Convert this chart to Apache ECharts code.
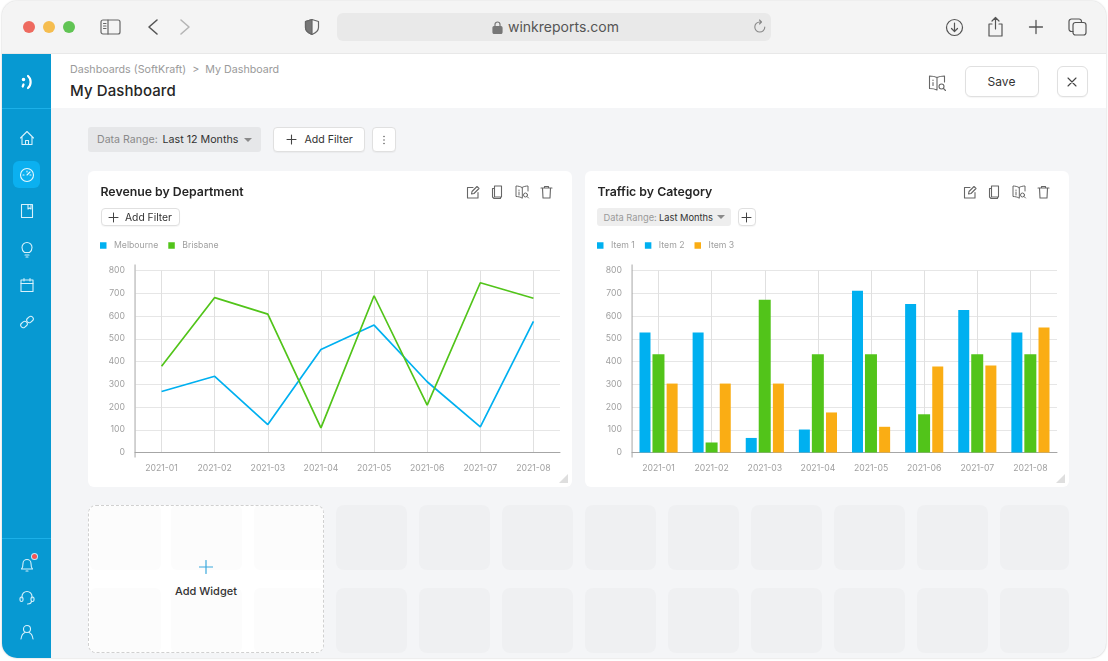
<!DOCTYPE html>
<html>
<head>
<meta charset="utf-8">
<title>My Dashboard</title>
<script src="https://cdn.jsdelivr.net/npm/echarts@6/dist/echarts.min.js"></script>
<style>
  html, body { margin: 0; padding: 0; width: 1108px; height: 661px; background: #fff; overflow: hidden; font-family: Inter, "Noto Sans", sans-serif; }
  .abs, .abs * { box-sizing: border-box; }
  .abs { position: absolute; }
  #window { left: 2px; top: 1px; width: 1104px; height: 657px; border-radius: 15px; overflow: hidden; background: #f4f5f7; box-shadow: 0 0 2px rgba(0,0,0,.25); }
  #page { left: -2px; top: -1px; width: 1108px; height: 661px; }
  .txt { white-space: nowrap; line-height: 1; }
  .btn { background: #fff; border: 1px solid #e0e0e0; border-radius: 4px; box-shadow: 0 1px 1px rgba(0,0,0,.04); }
  .card { background: #fff; border-radius: 6px; }
  .chart { left: 0; top: 0; width: 484px; height: 316px; }
  svg { position: absolute; fill: none; stroke-linecap: round; stroke-linejoin: round; }
  .resize { width: 0; height: 0; border-left: 9px solid transparent; border-bottom: 9px solid #dedede; }
  .caret { width: 0; height: 0; border-left: 4px solid transparent; border-right: 4px solid transparent; border-top: 4px solid #8a8a8a; }
</style>
</head>
<body>
<div id="window" class="abs"><div id="page" class="abs">

  <!-- browser toolbar -->
  <div class="abs" style="left:0;top:0;width:1108px;height:54px;background:#f4f4f4;border-bottom:1px solid #e8e8e8"></div>
  <div class="abs" style="left:23px;top:21px;width:12px;height:12px;border-radius:50%;background:#ee6a5f"></div>
  <div class="abs" style="left:43px;top:21px;width:12px;height:12px;border-radius:50%;background:#f5bd4f"></div>
  <div class="abs" style="left:63px;top:21px;width:12px;height:12px;border-radius:50%;background:#61c454"></div>
  <svg style="left:100px;top:18px" width="22" height="18" stroke="#666" stroke-width="1.2"><rect x="1" y="2" width="19" height="14" rx="2"/><path d="M8 2v14M3.5 5.5h2.5M3.5 8h2.5M3.5 10.500h2.500"/></svg>
  <svg style="left:146px;top:18px" width="14" height="18" stroke="#555" stroke-width="1.6"><path d="M11 2L3 9l8 7"/></svg>
  <svg style="left:178px;top:18px" width="14" height="18" stroke="#b5b5b5" stroke-width="1.6"><path d="M3 2l8 7-8 7"/></svg>
  <svg style="left:304px;top:18px" width="16" height="18" stroke="#666" stroke-width="1.200"><path d="M8 1.500l6.500 2v6c0 3.500-3 5.500-6.500 7-3.500-1.500-6.500-3.500-6.500-7v-6z"/><path d="M8 1.500l-6.500 2v6c0 3.500 3 5.500 6.500 7z" fill="#777"/></svg>
  <div class="abs" style="left:337px;top:13px;width:434px;height:28px;background:#e9e9e9;border-radius:6px"></div>
  <svg style="left:492px;top:21px" width="11" height="13" stroke="#777" stroke-width="1.200"><rect x="1" y="5.500" width="9" height="7" rx="1.200" fill="#777"/><path d="M3 5.500V3.500a2.500 2.500 0 0 1 5 0v2"/></svg>
  <div class="abs txt" style="left:508px;top:20px;font-size:14px;color:#555">winkreports.com</div>
  <svg style="left:752px;top:19px" width="16" height="16" stroke="#888" stroke-width="1.100"><path d="M12.800 8a5 5 0 1 1-5-5h1.500M7.500 1l2 2-2 2"/></svg>
  <svg style="left:945px;top:18px" width="19" height="19" stroke="#555" stroke-width="1.200"><circle cx="9.500" cy="9.500" r="8"/><path d="M9.500 5v8.500M6.500 10.500l3 3 3-3"/></svg>
  <svg style="left:987px;top:16px" width="17" height="21" stroke="#555" stroke-width="1.200"><path d="M5 8H2v12h13V8h-3M8.500 13V2M5 5l3.500-3.500L12 5"/></svg>
  <svg style="left:1028px;top:19px" width="16" height="16" stroke="#555" stroke-width="1.300"><path d="M8 1.500v13M1.500 8h13"/></svg>
  <svg style="left:1068px;top:18px" width="19" height="18" stroke="#555" stroke-width="1.200"><rect x="5" y="4.500" width="13" height="12.500" rx="2.500"/><path d="M5 13.500H3.500A2.500 2.500 0 0 1 1 11V3.500A2.500 2.500 0 0 1 3.500 1H11a2.500 2.500 0 0 1 2.500 2.500v1"/></svg>

  <!-- sidebar -->
  <div class="abs" style="left:0;top:54px;width:51px;height:607px;background:#0799d2"></div>
  <div class="abs" style="left:0;top:108px;width:51px;height:1px;background:#1cb0e8"></div>
  <div class="abs" style="left:0;top:538px;width:51px;height:1px;background:#1cb0e8"></div>
  <svg style="left:19px;top:74px" width="16" height="16" stroke="#fff" stroke-width="2.200"><path d="M9 2c3.500 3 3.500 9 0 12"/><circle cx="4.500" cy="5.500" r=".7" fill="#fff"/><path d="M4.500 10.500l-.8 2"/></svg>
  <svg style="left:19px;top:130px" width="16" height="16" stroke="#d8f1fb" stroke-width="1.100"><path d="M1.500 8L8 1.500 14.500 8M3 7v7.500h10V7M6.500 14.500v-4h3v4"/></svg>
  <div class="abs" style="left:13px;top:161px;width:27px;height:27px;background:#0bb0f0;border-radius:6px"></div>
  <svg style="left:19px;top:167px" width="16" height="16" stroke="#e6f7fd" stroke-width="1.100"><circle cx="8" cy="8" r="6.500"/><path d="M8 8l3-3M4 8h1M11 8h1M8 4v1"/></svg>
  <svg style="left:19px;top:203px" width="16" height="16" stroke="#d8f1fb" stroke-width="1.100"><rect x="2.500" y="1.500" width="11" height="13"/><path d="M9 1.500v4.500l1.500-1 1.500 1V1.500"/></svg>
  <svg style="left:19px;top:241px" width="16" height="17" stroke="#d8f1fb" stroke-width="1.100"><path d="M5.500 11.500C4 10.500 3 9 3 6.500a5 5 0 0 1 10 0c0 2.500-1 4-2.500 5zM6 14h4M7 16h2"/></svg>
  <svg style="left:19px;top:277px" width="16" height="16" stroke="#d8f1fb" stroke-width="1.100"><rect x="2" y="3" width="12" height="11.500"/><path d="M2 6.500h12M5 1.500V4M11 1.500V4"/></svg>
  <svg style="left:19px;top:314px" width="16" height="16" stroke="#d8f1fb" stroke-width="1.100"><rect x="1.500" y="8" width="7" height="5" rx="2.500" transform="rotate(-40 5 10.500)"/><rect x="7.500" y="3" width="7" height="5" rx="2.500" transform="rotate(-40 11 5.500)"/></svg>
  <svg style="left:19px;top:556px" width="16" height="16" stroke="#d8f1fb" stroke-width="1.100"><path d="M2.500 13h11c-1.500-1.500-1.500-3-1.500-5.500a4 4 0 0 0-8 0c0 2.500 0 4-1.500 5.500zM7 15h2"/></svg>
  <div class="abs" style="left:31.500px;top:554px;width:5px;height:5px;border-radius:50%;background:#f25555;box-shadow:0 0 0 1px #c5e9f7"></div>
  <svg style="left:19px;top:590px" width="16" height="16" stroke="#d8f1fb" stroke-width="1.100"><path d="M3 8V6.500a5 5 0 0 1 10 0V8M12.500 11c0 2-2 3-4 3"/><rect x="1" y="7" width="3" height="4.500" rx="1.500"/><rect x="12" y="7" width="3" height="4.500" rx="1.500"/></svg>
  <svg style="left:19px;top:624px" width="16" height="16" stroke="#d8f1fb" stroke-width="1.100"><circle cx="8" cy="5" r="3.500"/><path d="M2 15c.5-3.500 2.500-6 4-6.500M14 15c-.5-3.500-2.500-6-4-6.500"/></svg>

  <!-- dashboard header -->
  <div class="abs" style="left:51px;top:54px;width:1057px;height:54px;background:#fff"></div>
  <div class="abs txt" style="left:70px;top:65px;font-size:10.700px;color:#9a9a9a">Dashboards (SoftKraft)&nbsp; &gt;&nbsp; My Dashboard</div>
  <div class="abs txt" style="left:70px;top:83px;font-size:15px;font-weight:500;color:#262626;letter-spacing:.1px">My Dashboard</div>
  <svg style="left:928px;top:74px" width="19" height="18" stroke="#666" stroke-width="1.100"><path d="M9 3.500C7 2.500 4 2 1.500 2v12.500c2.500 0 5.500.5 7.500 1.500V3.500zM9 3.500C11 2.500 14 2 16.500 2v6M5 6v.5M5 8.500v3"/><circle cx="13.500" cy="12.500" r="2.500"/><path d="M15.500 14.500l2 2"/></svg>
  <div class="abs btn" style="left:965px;top:66px;width:74px;height:31px;border-radius:6px"></div>
  <div class="abs txt" style="left:965px;top:76px;width:73px;text-align:center;font-size:12px;color:#333">Save</div>
  <div class="abs btn" style="left:1057px;top:66px;width:31px;height:31px;border-radius:6px"></div>
  <svg style="left:1066px;top:76px" width="12" height="12" stroke="#444" stroke-width="1.100"><path d="M2 2l8 8M10 2l-8 8"/></svg>

  <!-- page filters -->
  <div class="abs" style="left:88px;top:127px;width:173px;height:25px;background:#e6e7e9;border-radius:3px"></div>
  <div class="abs txt" style="left:97px;top:134.500px;font-size:10.600px;color:#8a8a8a">Data Range:</div>
  <div class="abs txt" style="left:162.500px;top:134.500px;font-size:10.700px;color:#333">Last 12 Months</div>
  <div class="abs caret" style="left:243.500px;top:138px"></div>
  <div class="abs btn" style="left:273px;top:127px;width:92px;height:25px"></div>
  <svg style="left:286px;top:134px" width="11" height="11" stroke="#444" stroke-width="1.100"><path d="M5.500 1v9M1 5.500h9"/></svg>
  <div class="abs txt" style="left:304.500px;top:134.500px;font-size:10.600px;color:#333">Add Filter</div>
  <div class="abs btn" style="left:372px;top:127px;width:24px;height:25px"></div>
  <svg style="left:381px;top:134px" width="6" height="12" fill="#666"><circle cx="3" cy="2.500" r=".8" fill="#666"/><circle cx="3" cy="6" r=".8" fill="#666"/><circle cx="3" cy="9.500" r=".8" fill="#666"/></svg>

  <!-- left card -->
  <div id="leftCard" class="abs card" style="left:88px;top:171px;width:484px;height:316px">
    <div id="revenueChart" class="abs chart"></div>
    <div class="abs txt" style="left:12.500px;top:15px;font-size:12.300px;font-weight:600;color:#262626">Revenue by Department</div>
    <div class="abs btn" style="left:12.500px;top:36.500px;width:79px;height:18.500px"></div>
    <svg style="left:19.500px;top:40.500px" width="11" height="11" stroke="#444" stroke-width="1"><path d="M5.500 1v9M1 5.500h9"/></svg>
    <div class="abs txt" style="left:37px;top:41px;font-size:10.300px;color:#333">Add Filter</div>
    <div class="abs resize" style="left:471px;top:303px"></div>
  </div>

  <!-- right card -->
  <div id="rightCard" class="abs card" style="left:585px;top:171px;width:484px;height:316px">
    <div id="trafficChart" class="abs chart"></div>
    <div class="abs txt" style="left:12.500px;top:15px;font-size:12.300px;font-weight:600;color:#262626">Traffic by Category</div>
    <div class="abs" style="left:12px;top:36.500px;width:134px;height:18.500px;background:#eeeeee;border-radius:3px"></div>
    <div class="abs txt" style="left:18.500px;top:41.500px;font-size:9.300px;color:#9a9a9a">Data Range:</div>
    <div class="abs txt" style="left:74px;top:41.500px;font-size:9.300px;color:#333">Last Months</div>
    <div class="abs caret" style="left:131.500px;top:44px"></div>
    <div class="abs btn" style="left:152.500px;top:36.500px;width:18px;height:18.500px"></div>
    <svg style="left:156px;top:40.500px" width="11" height="11" stroke="#444" stroke-width="1"><path d="M5.500 1v9M1 5.500h9"/></svg>
    <div class="abs resize" style="left:471px;top:303px"></div>
  </div>

  <!-- add widget box -->
  <div id="addWidget" class="abs" style="left:88px;top:505px;width:236px;height:148px;background:#fff;border:1px dashed #d0d0d0;border-radius:8px;overflow:hidden"></div>
  <svg style="left:199px;top:560px" width="14" height="14" stroke="#3aa8dc" stroke-width="1.200"><path d="M7 .5v13M.5 7h13"/></svg>
  <div class="abs txt" style="left:88px;top:585.500px;width:236px;text-align:center;font-size:11px;font-weight:500;color:#333">Add Widget</div>
</div></div>

<script>
// Chart data
const months = ["2021-01", "2021-02", "2021-03", "2021-04", "2021-05", "2021-06", "2021-07", "2021-08"];
const melbourne = [268, 335, 123, 453, 560, 311, 113, 576];
const brisbane = [379, 681, 608, 108, 689, 208, 746, 678];
const item1 = [528, 528, 64, 101, 711, 653, 626, 528];
const item2 = [432, 44, 671, 432, 432, 168, 432, 432];
const item3 = [303, 303, 303, 176, 113, 378, 382, 549];

const BLUE = "#00b0f0";
const GREEN = "#52c41a";
const ORANGE = "#faad14";

// Empty widget slots under the charts
const page = document.getElementById("page");
for (let col = 0; col < 9; col++) {
  for (const top of [505, 588]) {
    const slot = document.createElement("div");
    slot.className = "abs";
    slot.style.cssText = `left:${336 + col * 83}px;top:${top}px;width:${col == 8 ? 69 : 71}px;height:65px;background:#eff0f2;border-radius:8px`;
    page.appendChild(slot);
  }
}
// Faint cells inside the dashed box
const addWidget = document.getElementById("addWidget");
for (const left of [1, 82, 165]) {
  for (const top of [-1, 82]) {
    const cell = document.createElement("div");
    cell.className = "abs";
    cell.style.cssText = `left:${left}px;top:${top}px;width:71px;height:65px;background:#fcfcfc;border-radius:6px`;
    addWidget.appendChild(cell);
  }
}

// Options shared by both charts
const baseOption = (legendData, series) => ({
  animation: false,
  textStyle: { fontFamily: "Inter" },
  legend: {
    left: 12,
    top: 70,
    padding: 0,
    icon: "rect",
    itemWidth: 6.5,
    itemHeight: 6.5,
    itemGap: 10,
    selectedMode: false,
    textStyle: { color: "#a0a0a0", fontSize: 8.7, padding: [0, 0, 0, 2.5] },
    data: legendData,
  },
  grid: { left: 47, top: 99.5, width: 425, height: 182 },
  xAxis: {
    type: "category",
    data: months,
    axisLine: { lineStyle: { color: "#a6a6a6", width: 1 } },
    axisTick: { alignWithLabel: true, length: 5, lineStyle: { color: "#a6a6a6" } },
    axisLabel: { color: "#a0a0a0", fontSize: 8.7, margin: 11 },
    splitLine: { show: true, alignWithLabel: true, lineStyle: { color: "#e0e0e0", width: 1 } },
  },
  yAxis: {
    type: "value",
    min: 0,
    max: 800,
    interval: 100,
    axisLine: { show: false },
    axisTick: { show: false },
    axisLabel: { color: "#a0a0a0", fontSize: 8.7, margin: 10 },
    splitLine: { lineStyle: { color: "#e6e6e6", width: 1 } },
  },
  series: series,
});

// The y axis line runs a little past both ends of the scale
const drawAxisLine = (chart, color, width) => {
  const x = chart.convertToPixel({ xAxisIndex: 0 }, months[0]) - 26.5;
  chart.setOption({
    graphic: [{
      type: "line",
      silent: true,
      shape: {
        x1: x,
        x2: x,
        y1: chart.convertToPixel({ yAxisIndex: 0 }, 800) - 6,
        y2: chart.convertToPixel({ yAxisIndex: 0 }, 0) + 5,
      },
      style: { stroke: color, lineWidth: width },
    }],
  });
};

// Line chart
const revenueChart = echarts.init(document.getElementById("revenueChart"));
revenueChart.setOption(baseOption(
  [{ name: "Melbourne", itemStyle: { color: BLUE } }, { name: "Brisbane", itemStyle: { color: GREEN } }],
  [
    { name: "Melbourne", type: "line", data: melbourne, showSymbol: false, lineStyle: { color: BLUE, width: 1.7 }, itemStyle: { color: BLUE } },
    { name: "Brisbane", type: "line", data: brisbane, showSymbol: false, lineStyle: { color: GREEN, width: 1.7 }, itemStyle: { color: GREEN } },
  ]
));
drawAxisLine(revenueChart, "#c4c4c4", 1.5);

// Bar chart. The Item 2 legend swatch really is blue in the original.
const trafficChart = echarts.init(document.getElementById("trafficChart"));
trafficChart.setOption(baseOption(
  [
    { name: "Item 1", itemStyle: { color: BLUE } },
    { name: "Item 2", itemStyle: { color: BLUE } },
    { name: "Item 3", itemStyle: { color: ORANGE } },
  ],
  [
    { name: "Item 1", type: "bar", data: item1, barWidth: 11, barGap: "18%", itemStyle: { color: BLUE } },
    { name: "Item 2", type: "bar", data: item2, barWidth: 12, barGap: "18%", itemStyle: { color: GREEN } },
    { name: "Item 3", type: "bar", data: item3, barWidth: 11, barGap: "18%", itemStyle: { color: ORANGE } },
  ]
));
drawAxisLine(trafficChart, "#a6a6a6", 1);

// Action icons on the card headers
const cardIcons = `
  <svg style="left:378px;top:14px" width="14" height="14" stroke="#666" stroke-width="1.100"><path d="M12 7.500V13H1.500V2.500H7M5.500 9l.5-2.500L11 1.500l2 2-5 5z"/></svg>
  <svg style="left:403px;top:14px" width="13" height="14" stroke="#666" stroke-width="1.100"><path d="M3 3.500H1.500v8.500l1.500 1.500h6.500V12M3.500 1h7v11h-7z"/></svg>
  <svg style="left:427px;top:14px" width="15" height="14" stroke="#666" stroke-width="1"><path d="M7 2.500C5.500 1.500 3 1 1 1v10.500c2 0 4.500.5 6 1.500zM7 2.500C8.500 1.500 11 1 13 1v5M4 5v.5M4 7v3"/><circle cx="10.500" cy="10" r="2"/><path d="M12 11.500l1.500 1.500"/></svg>
  <svg style="left:452px;top:14px" width="13" height="14" stroke="#666" stroke-width="1.100"><path d="M1 3h11M4.500 3V1.500h4V3M2.500 3l.5 10h7l.5-10"/></svg>`;
document.getElementById("leftCard").insertAdjacentHTML("beforeend", cardIcons);
document.getElementById("rightCard").insertAdjacentHTML("beforeend", cardIcons);
</script>
</body>
</html>
